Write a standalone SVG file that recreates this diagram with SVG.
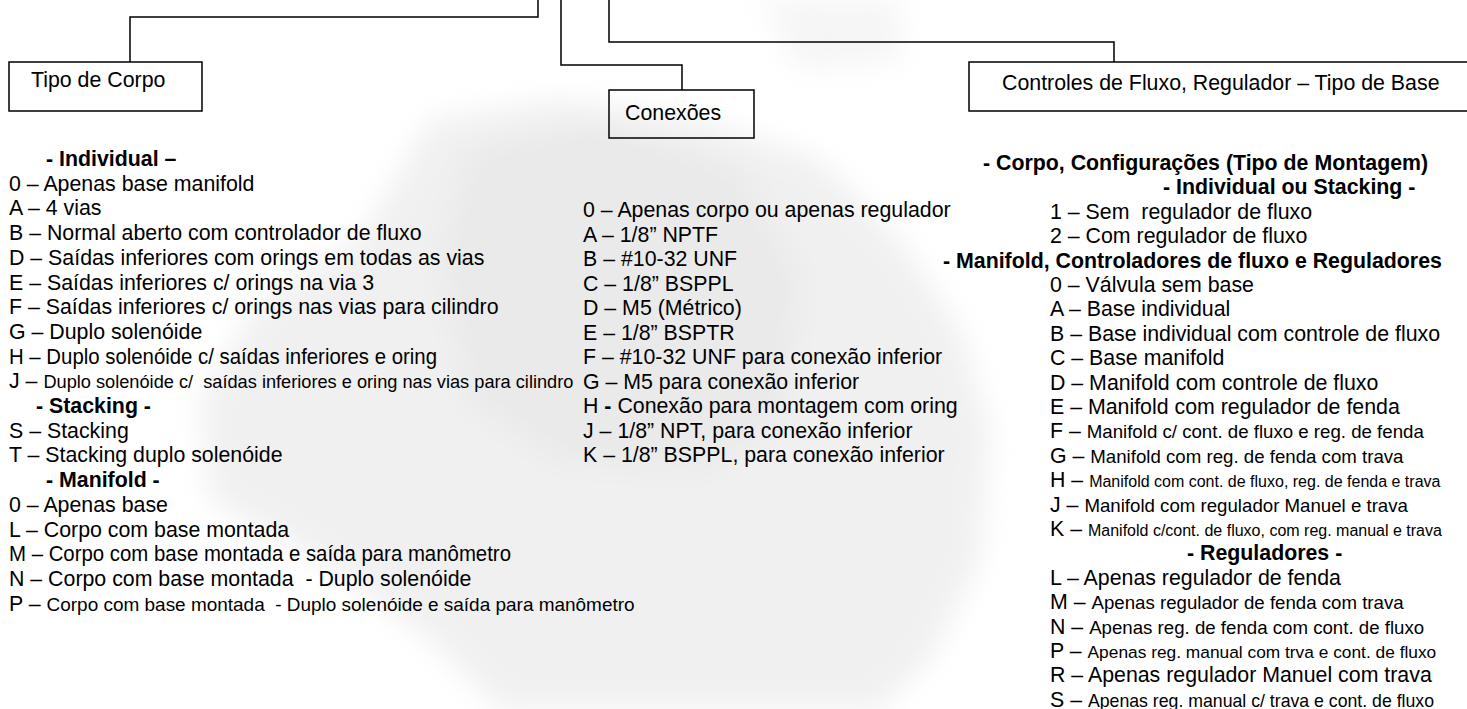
<svg xmlns="http://www.w3.org/2000/svg" width="1467" height="709" viewBox="0 0 1467 709">
<style>
text{font-family:"Liberation Sans",Arial,sans-serif;fill:#000;font-size:21.33px;white-space:pre}
.b{font-weight:bold}
.s14{font-size:18.67px}
.s13{font-size:17.33px}
.s135{font-size:17.7px}
.s12{font-size:16px}
.box{fill:none;stroke:#000;stroke-width:1.5}
.con{fill:none;stroke:#000;stroke-width:1.5}
</style>
<defs>
<filter id="blur" x="-20%" y="-20%" width="140%" height="140%"><feGaussianBlur stdDeviation="14"/></filter>
</defs>
<rect width="1467" height="709" fill="#fff"/>
<g id="watermark" filter="url(#blur)" opacity="0.5">
<polygon points="430,120 560,100 700,120 820,160 900,240 960,330 990,430 980,560 930,660 880,709 500,709 430,640 320,560 210,500 200,400 260,300 360,240" fill="#e2e2e2"/>
<polygon points="470,150 600,120 740,170 800,280 780,420 700,470 560,460 470,400 440,260" fill="#d6d6d6"/>
<polygon points="760,0 900,0 900,60 800,70" fill="#ececec"/>
</g>
<g id="connectors" class="con">
<polyline points="538,0 538,17 130,17 130,62"/>
<polyline points="561,0 561,65 682,65 682,90"/>
<polyline points="609,0 609,42 1114,42 1114,62"/>
</g>
<g id="node-tipo-corpo">
<rect class="box" x="9" y="62" width="193" height="49"/>
<text x="31" y="87">Tipo de Corpo</text>
</g>
<g id="node-conexoes">
<rect class="box" x="609" y="90" width="145" height="48"/>
<text x="625" y="120">Conexões</text>
</g>
<g id="node-controles">
<rect class="box" x="969" y="62" width="510" height="49"/>
<text x="1002" y="90">Controles de Fluxo, Regulador – Tipo de Base</text>
</g>
<g id="list-corpo">
<text class="b" x="46" y="166">- Individual –</text>
<text x="9" y="190.7">0 – Apenas base manifold</text>
<text x="9" y="215.4">A – 4 vias</text>
<text x="9" y="240.1">B – Normal aberto com controlador de fluxo</text>
<text x="9" y="264.8">D – Saídas inferiores com orings em todas as vias</text>
<text x="9" y="289.5">E – Saídas inferiores c/ orings na via 3</text>
<text x="9" y="314.2">F – Saídas inferiores c/ orings nas vias para cilindro</text>
<text x="9" y="338.9">G – Duplo solenóide</text>
<text x="9" y="363.6" textLength="428" lengthAdjust="spacingAndGlyphs">H – Duplo solenóide c/ saídas inferiores e oring</text>
<text x="9" y="388.3">J – <tspan class="s14" textLength="530" lengthAdjust="spacingAndGlyphs">Duplo solenóide c/  saídas inferiores e oring nas vias para cilindro</tspan></text>
<text class="b" x="36" y="413">- Stacking -</text>
<text x="9" y="437.7">S – Stacking</text>
<text x="9" y="462.4">T – Stacking duplo solenóide</text>
<text class="b" x="46" y="487.1">- Manifold -</text>
<text x="9" y="511.8">0 – Apenas base</text>
<text x="9" y="536.5">L – Corpo com base montada</text>
<text x="9" y="561.2" textLength="502" lengthAdjust="spacingAndGlyphs">M – Corpo com base montada e saída para manômetro</text>
<text x="9" y="585.9">N – Corpo com base montada  - Duplo solenóide</text>
<text x="9" y="610.6">P – <tspan class="s14" textLength="588" lengthAdjust="spacingAndGlyphs">Corpo com base montada  - Duplo solenóide e saída para manômetro</tspan></text>
</g>
<g id="list-conexoes">
<text x="583" y="217">0 – Apenas corpo ou apenas regulador</text>
<text x="583" y="241.5">A – 1/8” NPTF</text>
<text x="583" y="266">B – #10-32 UNF</text>
<text x="583" y="290.5">C – 1/8” BSPPL</text>
<text x="583" y="315">D – M5 (Métrico)</text>
<text x="583" y="339.5">E – 1/8” BSPTR</text>
<text x="583" y="364">F – #10-32 UNF para conexão inferior</text>
<text x="583" y="388.5">G – M5 para conexão inferior</text>
<text x="583" y="413">H <tspan class="b">-</tspan> Conexão para montagem com oring</text>
<text x="583" y="437.5">J – 1/8” NPT, para conexão inferior</text>
<text x="583" y="462">K – 1/8” BSPPL, para conexão inferior</text>
</g>
<g id="list-controles">
<text class="b" x="983" y="170">- Corpo, Configurações (Tipo de Montagem)</text>
<text class="b" x="1163" y="194.4">- Individual ou Stacking -</text>
<text x="1050" y="218.8">1 – Sem  regulador de fluxo</text>
<text x="1050" y="243.2">2 – Com regulador de fluxo</text>
<text class="b" x="943" y="267.6">- Manifold, Controladores de fluxo e Reguladores</text>
<text x="1050" y="292">0 – Válvula sem base</text>
<text x="1050" y="316.4">A – Base individual</text>
<text x="1050" y="340.8">B – Base individual com controle de fluxo</text>
<text x="1050" y="365.2">C – Base manifold</text>
<text x="1050" y="389.6">D – Manifold com controle de fluxo</text>
<text x="1050" y="414">E – Manifold com regulador de fenda</text>
<text x="1050" y="438.4">F – <tspan class="s14">Manifold c/ cont. de fluxo e reg. de fenda</tspan></text>
<text x="1050" y="462.8">G – <tspan class="s14">Manifold com reg. de fenda com trava</tspan></text>
<text x="1050" y="487.2">H – <tspan class="s12">Manifold com cont. de fluxo, reg. de fenda e trava</tspan></text>
<text x="1050" y="511.6">J – <tspan class="s14">Manifold com regulador Manuel e trava</tspan></text>
<text x="1050" y="536">K – <tspan class="s12">Manifold c/cont. de fluxo, com reg. manual e trava</tspan></text>
<text class="b" x="1187" y="560.4">- Reguladores -</text>
<text x="1050" y="584.8">L – Apenas regulador de fenda</text>
<text x="1050" y="609.2">M – <tspan class="s14">Apenas regulador de fenda com trava</tspan></text>
<text x="1050" y="633.6">N – <tspan class="s14">Apenas reg. de fenda com cont. de fluxo</tspan></text>
<text x="1050" y="658">P – <tspan class="s13">Apenas reg. manual com trva e cont. de fluxo</tspan></text>
<text x="1050" y="682.4">R – Apenas regulador Manuel com trava</text>
<text x="1050" y="706.8">S – <tspan class="s135">Apenas reg. manual c/ trava e cont. de fluxo</tspan></text>
</g>
</svg>
